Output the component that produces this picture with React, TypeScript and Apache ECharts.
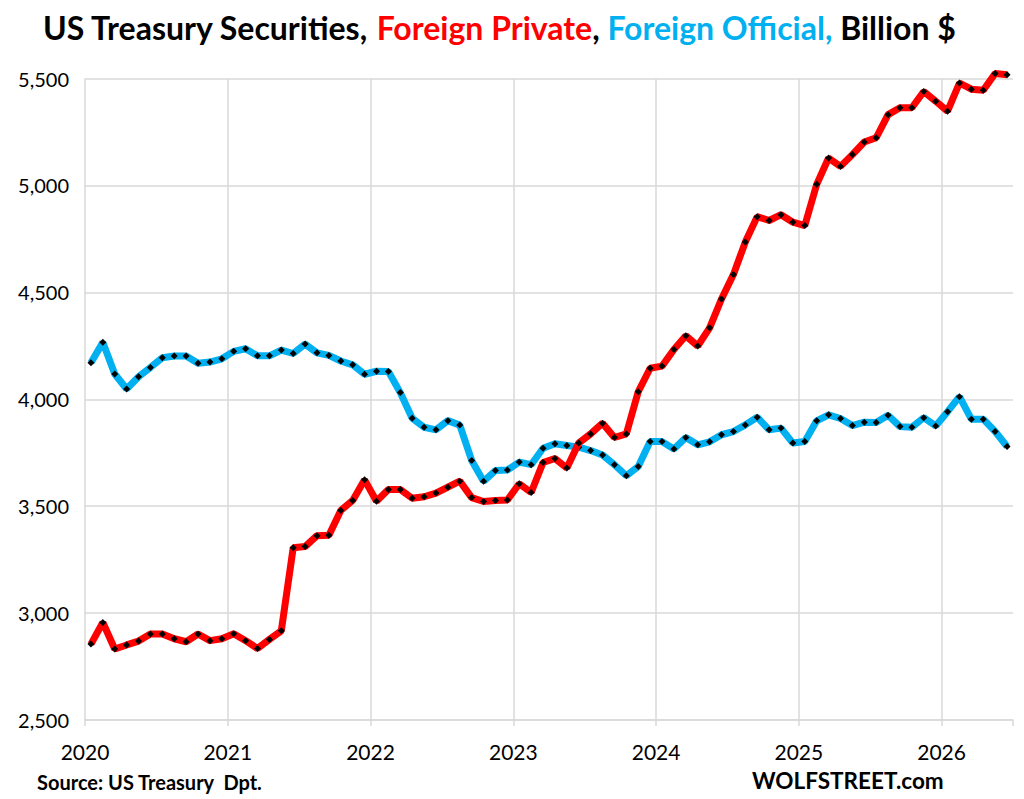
import React, { useEffect, useRef } from "react";
import * as echarts from "echarts";

const startYear = 2020;
const yearTicks = [2020, 2021, 2022, 2023, 2024, 2025, 2026];

const foreignPrivate = [
  2855, 2956, 2832, 2851, 2869, 2902, 2902, 2880, 2866, 2902, 2871, 2880,
  2903, 2871, 2834, 2877, 2917, 3306, 3311, 3362, 3364, 3480, 3527, 3623,
  3523, 3578, 3578, 3537, 3544, 3561, 3589, 3617, 3540, 3522, 3526, 3529,
  3605, 3564, 3704, 3723, 3678, 3795, 3838, 3888, 3821, 3838, 4035, 4145,
  4155, 4233, 4297, 4249, 4334, 4469, 4583, 4735, 4854, 4836, 4863, 4828,
  4812, 5005, 5128, 5089, 5144, 5203, 5223, 5331, 5363, 5363, 5439, 5394,
  5347, 5479, 5450, 5445, 5523, 5518,
];

const foreignOfficial = [
  4171, 4266, 4118, 4048, 4105, 4149, 4194, 4202, 4202, 4168, 4174, 4189,
  4224, 4236, 4203, 4203, 4230, 4214, 4258, 4217, 4205, 4179, 4161, 4117,
  4131, 4130, 4031, 3911, 3869, 3857, 3900, 3879, 3714, 3616, 3667, 3669,
  3706, 3694, 3771, 3792, 3784, 3776, 3760, 3739, 3694, 3642, 3686, 3802,
  3802, 3767, 3821, 3787, 3801, 3834, 3849, 3880, 3916, 3857, 3865, 3795,
  3802, 3899, 3927, 3910, 3877, 3893, 3891, 3925, 3872, 3869, 3914, 3875,
  3942, 4012, 3907, 3907, 3849, 3779,
];

const toPoints = (vals: number[]) =>
  vals.map((v, i) => [startYear + (i + 0.5) / 12, v]);

const FONT = "Lato, 'Noto Sans', sans-serif";

export default function App() {
  const ref = useRef<HTMLDivElement>(null);
  useEffect(() => {
    if (!ref.current) return;
    const chart = echarts.init(ref.current, undefined, { renderer: "svg" });
    chart.setOption({
      animation: false,
      backgroundColor: "#ffffff",
      title: {
        left: 38,
        top: 6,
        text:
          "{a|US Treasury Securities, }{r|Foreign Private}{a|, }{b|Foreign Official,}{a| Billion $}",
        textStyle: {
          rich: {
            a: { fontFamily: FONT, fontWeight: "bold", fontSize: 32, color: "#000000" },
            r: { fontFamily: FONT, fontWeight: "bold", fontSize: 32, color: "#FF0000" },
            b: { fontFamily: FONT, fontWeight: "bold", fontSize: 32, color: "#00B0F0" },
          },
        },
      },
      graphic: [
        {
          type: "text",
          left: 37,
          top: 772,
          style: {
            text: "Source: US Treasury  Dpt.",
            fontFamily: FONT,
            fontWeight: "bold",
            fontSize: 20,
            fill: "#000000",
          },
        },
        {
          type: "text",
          left: 752,
          top: 769,
          style: {
            text: "WOLFSTREET.com",
            fontFamily: FONT,
            fontWeight: "bold",
            fontSize: 22.5,
            fill: "#000000",
          },
        },
      ],
      grid: { left: 85, right: 11, top: 78.5, bottom: 79, containLabel: false },
      xAxis: {
        type: "value",
        min: yearTicks[0],
        max: 2026.5,
        interval: 1,
        axisLine: { show: true, lineStyle: { color: "#D9D9D9", width: 1.5 } },
        axisTick: { show: true, length: 6, lineStyle: { color: "#D9D9D9", width: 1.5 } },
        axisLabel: {
          fontFamily: FONT,
          fontSize: 21,
          color: "#000000",
          margin: 21,
          formatter: (v: number) => (yearTicks.includes(v) ? String(v) : ""),
        },
        splitLine: {
          show: true,
          showMaxLine: false,
          lineStyle: { color: "#D9D9D9", width: 1.5 },
        },
      },
      yAxis: {
        type: "value",
        min: 2500,
        max: 5500,
        interval: 500,
        axisLine: { show: false },
        axisTick: { show: false },
        axisLabel: {
          fontFamily: FONT,
          fontSize: 20,
          color: "#000000",
          margin: 16,
          formatter: (v: number) => v.toLocaleString("en-US"),
        },
        splitLine: { show: true, lineStyle: { color: "#D9D9D9", width: 1.5 } },
      },
      series: [
        {
          name: "Foreign Official",
          type: "line",
          data: toPoints(foreignOfficial),
          symbol: "diamond",
          symbolSize: 7,
          showSymbol: true,
          clip: false,
          lineStyle: { color: "#00B0F0", width: 7 },
          itemStyle: { color: "#000000" },
          z: 2,
        },
        {
          name: "Foreign Private",
          type: "line",
          data: toPoints(foreignPrivate),
          symbol: "diamond",
          symbolSize: 7,
          showSymbol: true,
          clip: false,
          lineStyle: { color: "#FF0000", width: 7 },
          itemStyle: { color: "#000000" },
          z: 3,
        },
      ],
    });
    return () => chart.dispose();
  }, []);
  return (
    <div
      ref={ref}
      style={{ position: "absolute", left: 0, top: 0, width: 1024, height: 799 }}
    />
  );
}
